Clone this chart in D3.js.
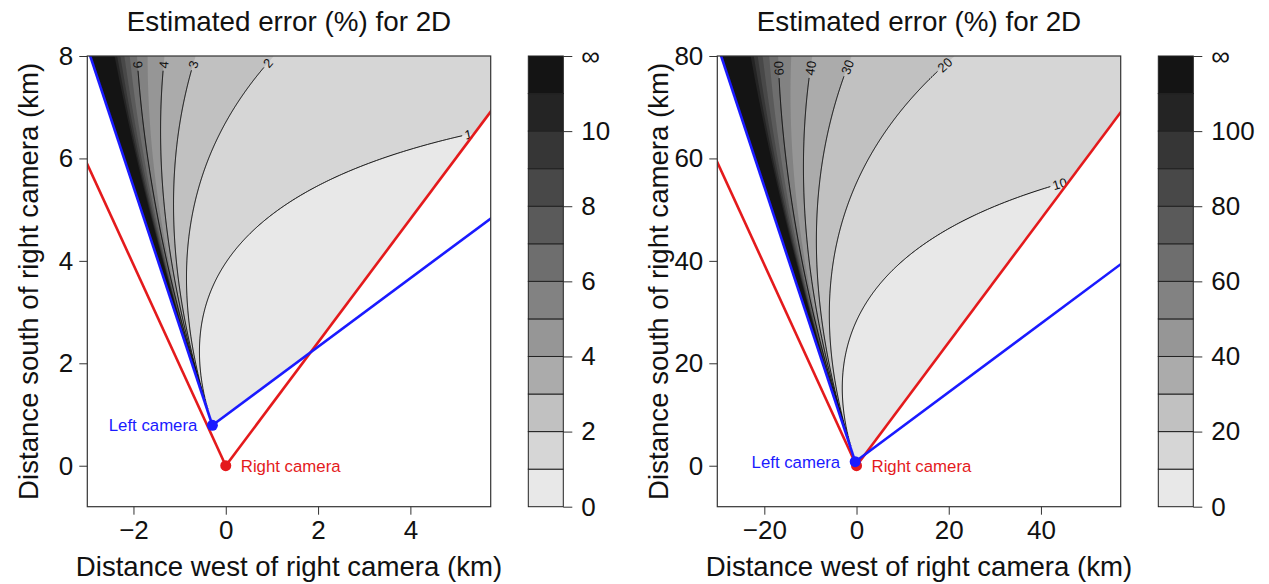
<!DOCTYPE html>
<html>
<head>
<meta charset="utf-8">
<script src="https://cdn.jsdelivr.net/npm/d3@7"></script>
<style>
  body { margin: 0; background: #fff; }
  text { font-family: "Liberation Sans", Arial, sans-serif; }
</style>
</head>
<body>
<svg id="chart" width="1269" height="584"></svg>
<script>
// CAMERAS (km, right camera is the origin)
var camRight = [0, 0];
var camLeft = [-0.29, 0.79];
// field of view edges, degrees clockwise from north
var fovRight = [-27.0, 39.7];
var fovLeft = [-20.16, 56.2];
var aimLeft = 18.0;     // optical axis of the left camera
var errK = 8.4;         // error scale

var bandColors = ['#e8e8e8', '#d6d6d6', '#c1c1c1', '#ababab', '#969696', '#828282',
                  '#6e6e6e', '#5a5a5a', '#484848', '#363636', '#242424', '#141414'];

// near view (left) and far view (right)
var xTicksNear = [-2, 0, 2, 4], yTicksNear = [0, 2, 4, 6, 8];
var levelsNear = [1, 2, 3, 4, 6];
var barTicksNear = [0, 2, 4, 6, 8, 10];
var xTicksFar = [-20, 0, 20, 40], yTicksFar = [0, 20, 40, 60, 80];
var levelsFar = [10, 20, 30, 40, 60];
var barTicksFar = [0, 20, 40, 60, 80, 100];

var titleText = 'Estimated error (%) for 2D';
var xLabel = 'Distance west of right camera (km)';
var yLabel = 'Distance south of right camera (km)';

var panels = [
  {dx: 0, xDom: [-3.0, 5.74], yDom: [-0.8, 8], xTicks: xTicksNear, yTicks: yTicksNear,
   levels: levelsNear, barTicks: barTicksNear, step: 1},
  {dx: 630, xDom: [-30.2, 57.3], yDom: [-8, 80], xTicks: xTicksFar, yTicks: yTicksFar,
   levels: levelsFar, barTicks: barTicksFar, step: 10}
];

var plot = {left: 87.3, right: 490.7, top: 56, bottom: 506.7};
var bar = {left: 528.3, right: 563.3};
var RED = '#e41a1c', BLUE = '#1a1aff';

var svg = d3.select('#chart');
var defs = svg.append('defs');

function rad(a) { return a * Math.PI / 180; }
function dirOf(a) { return [Math.sin(rad(a)), Math.cos(rad(a))]; }
function crossAt(o, u, p) { return u[0] * (p[1] - o[1]) - u[1] * (p[0] - o[0]); }
function fmt(d) { return d < 0 ? '\u2212' + Math.abs(d) : String(d); }

// keep the side of line (o,u) where sign*cross >= 0
function clipHalf(poly, o, u, sign) {
  var out = [];
  for (var i = 0; i < poly.length; i++) {
    var a = poly[i], b = poly[(i + 1) % poly.length];
    var fa = sign * crossAt(o, u, a), fb = sign * crossAt(o, u, b);
    if (fa >= 0) out.push(a);
    if ((fa >= 0) != (fb >= 0)) {
      var t = fa / (fa - fb);
      out.push([a[0] + t * (b[0] - a[0]), a[1] + t * (b[1] - a[1])]);
    }
  }
  return out;
}

// relative 2D error (%) at a point
function errAt(px, py) {
  var bx = camLeft[0] - camRight[0], by = camLeft[1] - camRight[1];
  var cr = Math.abs(bx * (py - camRight[1]) - by * (px - camRight[0]));
  var vx = px - camLeft[0], vy = py - camLeft[1];
  var c = Math.cos(Math.atan2(vx, vy) - rad(aimLeft));
  var v = (vx * vx + vy * vy) * c * c / (errK * cr);
  return isFinite(v) ? Math.min(v, 1e6) : 1e6;
}

function dist(a, b) { return Math.hypot(a[0] - b[0], a[1] - b[1]); }

function drawPanel(p, pi) {
  var L = plot.left + p.dx, R = plot.right + p.dx;
  var x = d3.scaleLinear().domain(p.xDom).range([L, R]);
  var y = d3.scaleLinear().domain(p.yDom).range([plot.bottom, plot.top]);
  var g = svg.append('g');

  // VISIBLE REGION = both fields of view
  var reg = [[p.xDom[0], p.yDom[0]], [p.xDom[1], p.yDom[0]], [p.xDom[1], p.yDom[1]], [p.xDom[0], p.yDom[1]]];
  reg = clipHalf(reg, camLeft, dirOf(fovLeft[0]), -1);
  reg = clipHalf(reg, camLeft, dirOf(fovLeft[1]), 1);
  reg = clipHalf(reg, camRight, dirOf(fovRight[0]), -1);
  reg = clipHalf(reg, camRight, dirOf(fovRight[1]), 1);
  var regPx = reg.map(function(d) { return [x(d[0]), y(d[1])]; });

  defs.append('clipPath').attr('id', 'reg' + pi)
    .append('path').attr('d', 'M' + regPx.join('L') + 'Z');
  defs.append('clipPath').attr('id', 'box' + pi)
    .append('rect').attr('x', L).attr('y', plot.top).attr('width', R - L).attr('height', plot.bottom - plot.top);

  // GRID OF ERROR VALUES
  var n = Math.round(R - L), m = Math.round(plot.bottom - plot.top);
  var sx = (R - L) / n, sy = (plot.bottom - plot.top) / m;
  var vals = new Float64Array(n * m);
  for (var j = 0; j < m; j++) {
    for (var i = 0; i < n; i++) {
      vals[j * n + i] = errAt(x.invert(L + (i + 0.5) * sx), y.invert(plot.top + (j + 0.5) * sy));
    }
  }

  // FILLED BANDS
  var fills = d3.contours().size([n, m])
    .thresholds(bandColors.map(function(c, k) { return k * p.step; }))(vals);
  g.append('g').attr('clip-path', 'url(#reg' + pi + ')')
    .append('g').attr('transform', 'translate(' + L + ',' + plot.top + ') scale(' + sx + ',' + sy + ')')
    .selectAll('path').data(fills).enter().append('path')
      .attr('d', d3.geoPath())
      .attr('fill', function(d, k) { return bandColors[k]; });

  // LABELLED CONTOUR LINES
  var cl = [x(camLeft[0]), y(camLeft[1])];
  function inside(pt) {
    return pt[0] > L + 1.5 && pt[0] < R - 1.5 && pt[1] > plot.top + 1.5 && pt[1] < plot.bottom - 1.5 &&
      d3.polygonContains(regPx, pt);
  }
  var lineG = g.append('g').attr('clip-path', 'url(#reg' + pi + ')');
  var labG = g.append('g');
  d3.contours().size([n, m]).thresholds(p.levels)(vals).forEach(function(c) {
    var best = [];
    c.coordinates.forEach(function(poly) {
      poly.forEach(function(ring) {
        var pts = ring.map(function(q) { return [L + q[0] * sx, plot.top + q[1] * sy]; });
        var flags = pts.map(inside);
        var k0 = flags.indexOf(false);
        if (k0 < 0) { if (pts.length > best.length) best = pts; return; }
        var cur = [];
        for (var s = 1; s <= pts.length; s++) {
          var k = (k0 + s) % pts.length;
          if (flags[k]) cur.push(pts[k]);
          else { if (cur.length > best.length) best = cur; cur = []; }
        }
        if (cur.length > best.length) best = cur;
      });
    });
    if (best.length < 3) return;
    if (dist(best[0], cl) > dist(best[best.length - 1], cl)) best.reverse();

    var txt = String(c.value);
    var gap = txt.length * 7.3 + 5;
    var acc = 0, k = best.length - 1;
    while (k > 0 && acc + dist(best[k], best[k - 1]) < gap) { acc += dist(best[k], best[k - 1]); k--; }
    var end = best[best.length - 1];
    var cut = end;
    if (k > 0) {
      var t = (gap - acc) / dist(best[k], best[k - 1]);
      cut = [best[k][0] + t * (best[k - 1][0] - best[k][0]), best[k][1] + t * (best[k - 1][1] - best[k][1])];
    }
    var kept = best.slice(0, k).concat([cut]);
    lineG.append('path')
      .attr('d', d3.line()(kept))
      .attr('fill', 'none').attr('stroke', '#000').attr('stroke-width', 1);

    var ang = Math.atan2(end[1] - cut[1], end[0] - cut[0]) * 180 / Math.PI;
    if (ang > 90) ang -= 180;
    if (ang < -110) ang += 180;
    var mx = (cut[0] + end[0]) / 2, my = (cut[1] + end[1]) / 2;
    labG.append('text')
      .attr('transform', 'translate(' + mx + ',' + my + ') rotate(' + ang + ')')
      .attr('text-anchor', 'middle').attr('dy', '0.36em')
      .attr('font-size', 13).attr('fill', '#111')
      .text(txt);
  });

  // FIELD OF VIEW EDGES
  var fovG = g.append('g').attr('clip-path', 'url(#box' + pi + ')');
  [[camRight, fovRight, RED], [camLeft, fovLeft, BLUE]].forEach(function(f) {
    f[1].forEach(function(a) {
      var u = dirOf(a);
      fovG.append('line')
        .attr('x1', x(f[0][0])).attr('y1', y(f[0][1]))
        .attr('x2', x(f[0][0] + u[0] * 1000)).attr('y2', y(f[0][1] + u[1] * 1000))
        .attr('stroke', f[2]).attr('stroke-width', 2.6);
    });
  });

  // CAMERAS
  g.append('circle').attr('cx', x(camRight[0])).attr('cy', y(camRight[1])).attr('r', 5.5).attr('fill', RED);
  g.append('circle').attr('cx', x(camLeft[0])).attr('cy', y(camLeft[1])).attr('r', 5.5).attr('fill', BLUE);
  g.append('text').attr('x', x(camLeft[0]) - 15).attr('y', y(camLeft[1])).attr('dy', '0.35em')
    .attr('text-anchor', 'end').attr('font-size', 16.8).attr('fill', BLUE).text('Left camera');
  g.append('text').attr('x', x(camRight[0]) + 15).attr('y', y(camRight[1])).attr('dy', '0.35em')
    .attr('font-size', 16.8).attr('fill', RED).text('Right camera');

  // AXES
  var xa = g.append('g').attr('transform', 'translate(0,' + plot.bottom + ')')
    .call(d3.axisBottom(x).tickValues(p.xTicks).tickSize(8).tickPadding(6).tickFormat(fmt));
  var ya = g.append('g').attr('transform', 'translate(' + L + ',0)')
    .call(d3.axisLeft(y).tickValues(p.yTicks).tickSize(8).tickPadding(6).tickFormat(fmt));
  [xa, ya].forEach(function(a) {
    a.select('.domain').remove();
    a.selectAll('line').attr('stroke', '#333');
    a.selectAll('text').attr('font-size', 26).attr('fill', '#111')
      .style('font-family', '"Liberation Sans", Arial, sans-serif');
  });
  g.append('rect').attr('x', L).attr('y', plot.top).attr('width', R - L).attr('height', plot.bottom - plot.top)
    .attr('fill', 'none').attr('stroke', '#333').attr('stroke-width', 1.2);

  // COLOUR BAR
  var top = 12 * p.step;
  var cb = d3.scaleLinear().domain([0, top]).range([plot.bottom, plot.top]);
  var bL = bar.left + p.dx, bR = bar.right + p.dx;
  g.append('g').selectAll('rect').data(bandColors).enter().append('rect')
    .attr('x', bL).attr('width', bR - bL)
    .attr('y', function(d, k) { return cb((k + 1) * p.step); })
    .attr('height', function(d, k) { return cb(k * p.step) - cb((k + 1) * p.step); })
    .attr('fill', function(d) { return d; })
    .attr('stroke', '#222').attr('stroke-width', 1);
  var ba = g.append('g').attr('transform', 'translate(' + bR + ',0)')
    .call(d3.axisRight(cb).tickValues(p.barTicks.concat([top])).tickSize(9).tickPadding(9)
      .tickFormat(function(d) { return d == top ? '\u221e' : fmt(d); }));
  ba.select('.domain').remove();
  ba.selectAll('line').attr('stroke', '#333');
  ba.selectAll('text').attr('font-size', 26).attr('fill', '#111')
    .style('font-family', '"Liberation Sans", Arial, sans-serif');

  // TITLES
  var cx = (L + R) / 2;
  g.append('text').attr('x', cx).attr('y', 31).attr('text-anchor', 'middle')
    .attr('font-size', 27.8).attr('fill', '#111').text(titleText);
  g.append('text').attr('x', cx).attr('y', 576).attr('text-anchor', 'middle')
    .attr('font-size', 27.6).attr('fill', '#111').text(xLabel);
  g.append('text').attr('transform', 'translate(' + (L - 49) + ',' + ((plot.top + plot.bottom) / 2) + ') rotate(-90)')
    .attr('text-anchor', 'middle').attr('font-size', 27.6).attr('fill', '#111').text(yLabel);
}

panels.forEach(drawPanel);
</script>
</body>
</html>
